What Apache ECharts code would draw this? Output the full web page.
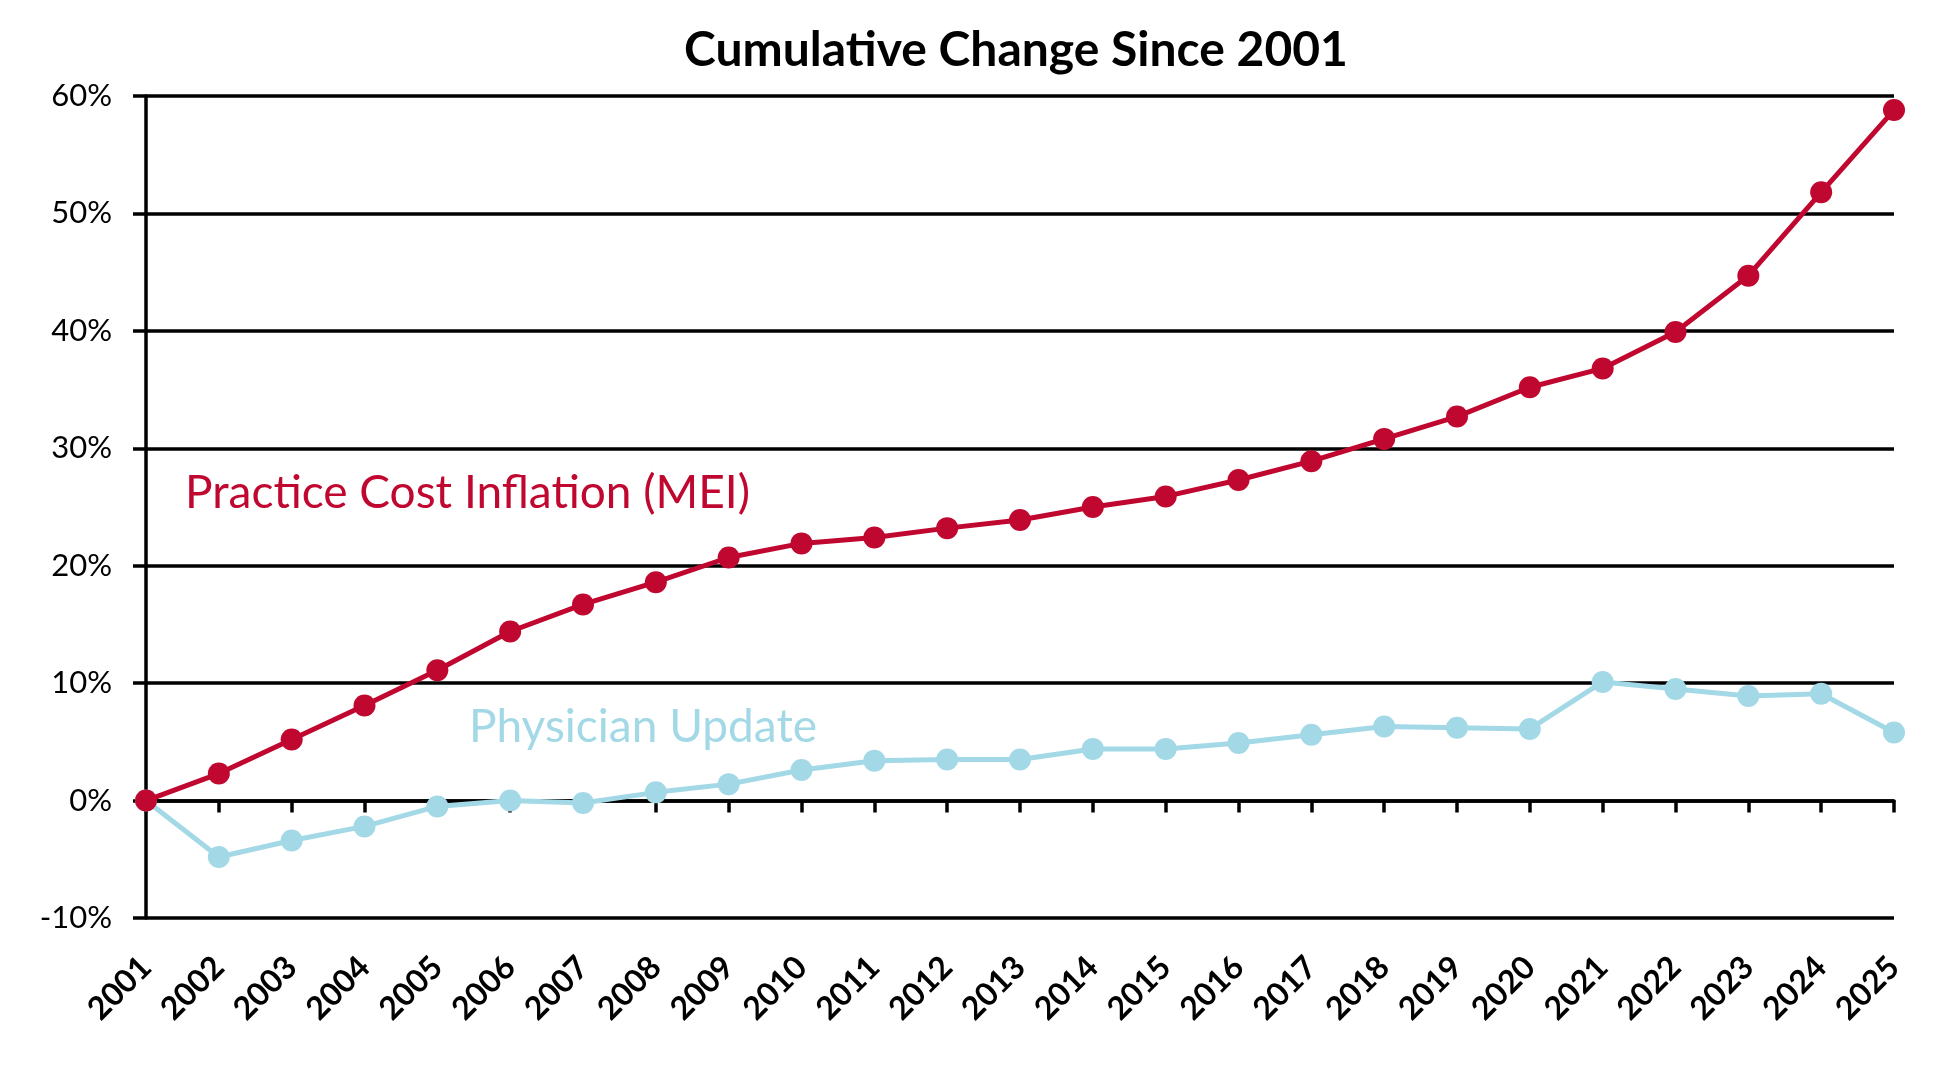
<!DOCTYPE html>
<html>
<head>
<meta charset="utf-8">
<script src="https://cdn.jsdelivr.net/npm/echarts@6/dist/echarts.min.js"></script>
<style>
html,body{margin:0;padding:0;background:#fff;}
#chart{width:1956px;height:1068px;}
</style>
</head>
<body>
<div id="chart"></div>
<script>
// years on the x axis
const years = ['2001','2002','2003','2004','2005','2006','2007','2008','2009','2010','2011','2012','2013',
  '2014','2015','2016','2017','2018','2019','2020','2021','2022','2023','2024','2025'];
// cumulative % change
const meiValues = [0, 2.3, 5.2, 8.1, 11.1, 14.4, 16.7, 18.6, 20.7, 21.9, 22.4, 23.2, 23.9,
  25.0, 25.9, 27.3, 28.9, 30.8, 32.7, 35.2, 36.8, 39.9, 44.7, 51.8, 58.8];
const physicianValues = [0, -4.8, -3.4, -2.2, -0.5, 0, -0.2, 0.7, 1.4, 2.6, 3.4, 3.5, 3.5,
  4.4, 4.4, 4.9, 5.6, 6.3, 6.2, 6.1, 10.1, 9.5, 8.9, 9.1, 5.8];
const yTicks = [-10, 0, 10, 20, 30, 40, 50, 60];

const red = '#C0072F';
const blue = '#A3D9E6';
const font = 'Lato, "Liberation Sans", sans-serif';

let chart = echarts.init(document.getElementById('chart'));
chart.setOption({
    animation: false,
    title: {
        text: 'Cumulative Change Since 2001',
        left: 1011,
        textAlign: 'center',
        top: 22,
        textStyle: { fontFamily: font, fontWeight: 'bold', fontSize: 48, color: '#000' }
    },
    grid: { left: 146, right: 62, top: 96, bottom: 150 },
    xAxis: {
        type: 'category',
        data: years,
        boundaryGap: false,
        axisLine: { lineStyle: { color: '#000', width: 3.5 } },
        axisTick: { show: true, length: 12, lineStyle: { color: '#000', width: 3.5 } },
        axisLabel: {
            rotate: 45, interval: 0, margin: 44,
            fontFamily: font, fontWeight: 'bold', fontSize: 32, color: '#000'
        },
        splitLine: { show: false }
    },
    yAxis: {
        type: 'value',
        min: yTicks[0],
        max: yTicks[yTicks.length - 1],
        interval: 10,
        axisLine: { show: true, lineStyle: { color: '#000', width: 3.5 } },
        axisTick: { show: true, length: 13, lineStyle: { color: '#000', width: 3.5 } },
        axisLabel: {
            formatter: '{value}%', margin: 34,
            fontFamily: font, fontSize: 31, color: '#000'
        },
        splitLine: { show: true, lineStyle: { color: '#000', width: 3.5 } }
    },
    graphic: [
        {
            type: 'text', left: 185, top: 470,
            style: { text: 'Practice Cost Inflation (MEI)', fill: red, font: '46px ' + font }
        },
        {
            type: 'text', left: 469, top: 704,
            style: { text: 'Physician Update', fill: blue, font: '46px ' + font }
        }
    ],
    series: [
        {
            name: 'Physician Update',
            type: 'line',
            data: physicianValues,
            symbol: 'circle', symbolSize: 22,
            lineStyle: { color: blue, width: 5 },
            itemStyle: { color: blue },
            z: 3
        },
        {
            name: 'Practice Cost Inflation (MEI)',
            type: 'line',
            data: meiValues,
            symbol: 'circle', symbolSize: 22,
            lineStyle: { color: red, width: 5 },
            itemStyle: { color: red },
            z: 4
        }
    ]
});
</script>
</body>
</html>
